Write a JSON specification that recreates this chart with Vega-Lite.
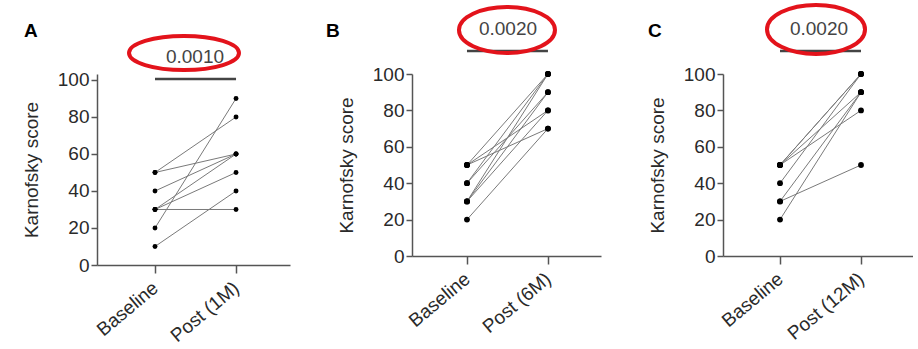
{
  "$schema": "https://vega.github.io/schema/vega-lite/v6.json",
  "background": "white",
  "padding": {"left": 22, "top": -4, "right": 0, "bottom": 0},
  "bounds": "flush",
  "spacing": 122,
  "datasets": {
    "a": [
      {"id": 1, "time": "Baseline", "score": 50}, {"id": 1, "time": "Post (1M)", "score": 60},
      {"id": 2, "time": "Baseline", "score": 50}, {"id": 2, "time": "Post (1M)", "score": 80},
      {"id": 3, "time": "Baseline", "score": 40}, {"id": 3, "time": "Post (1M)", "score": 60},
      {"id": 4, "time": "Baseline", "score": 30}, {"id": 4, "time": "Post (1M)", "score": 60},
      {"id": 5, "time": "Baseline", "score": 30}, {"id": 5, "time": "Post (1M)", "score": 50},
      {"id": 6, "time": "Baseline", "score": 30}, {"id": 6, "time": "Post (1M)", "score": 30},
      {"id": 7, "time": "Baseline", "score": 20}, {"id": 7, "time": "Post (1M)", "score": 90},
      {"id": 8, "time": "Baseline", "score": 10}, {"id": 8, "time": "Post (1M)", "score": 40}
    ],
    "b": [
      {"id": 1, "time": "Baseline", "score": 50}, {"id": 1, "time": "Post (6M)", "score": 100},
      {"id": 2, "time": "Baseline", "score": 50}, {"id": 2, "time": "Post (6M)", "score": 80},
      {"id": 3, "time": "Baseline", "score": 50}, {"id": 3, "time": "Post (6M)", "score": 70},
      {"id": 4, "time": "Baseline", "score": 40}, {"id": 4, "time": "Post (6M)", "score": 100},
      {"id": 5, "time": "Baseline", "score": 40}, {"id": 5, "time": "Post (6M)", "score": 90},
      {"id": 6, "time": "Baseline", "score": 30}, {"id": 6, "time": "Post (6M)", "score": 100},
      {"id": 7, "time": "Baseline", "score": 30}, {"id": 7, "time": "Post (6M)", "score": 90},
      {"id": 8, "time": "Baseline", "score": 30}, {"id": 8, "time": "Post (6M)", "score": 80},
      {"id": 9, "time": "Baseline", "score": 20}, {"id": 9, "time": "Post (6M)", "score": 70}
    ],
    "c": [
      {"id": 1, "time": "Baseline", "score": 50}, {"id": 1, "time": "Post (12M)", "score": 100},
      {"id": 2, "time": "Baseline", "score": 50}, {"id": 2, "time": "Post (12M)", "score": 100},
      {"id": 3, "time": "Baseline", "score": 50}, {"id": 3, "time": "Post (12M)", "score": 90},
      {"id": 4, "time": "Baseline", "score": 50}, {"id": 4, "time": "Post (12M)", "score": 80},
      {"id": 5, "time": "Baseline", "score": 40}, {"id": 5, "time": "Post (12M)", "score": 100},
      {"id": 6, "time": "Baseline", "score": 30}, {"id": 6, "time": "Post (12M)", "score": 90},
      {"id": 7, "time": "Baseline", "score": 30}, {"id": 7, "time": "Post (12M)", "score": 50},
      {"id": 8, "time": "Baseline", "score": 20}, {"id": 8, "time": "Post (12M)", "score": 90}
    ]
  },
  "config": {
    "view": {"stroke": null},
    "font": "Liberation Sans",
    "axis": {
      "labelFont": "Liberation Sans", "titleFont": "Liberation Sans",
      "labelColor": "#2a2a2a", "titleColor": "#2a2a2a",
      "domainColor": "#555", "tickColor": "#555",
      "domainWidth": 1.5, "tickWidth": 1.5, "grid": false,
      "labelFontSize": 19, "titleFontSize": 19, "titleFontWeight": "normal"
    },
    "axisY": {"tickSize": 6, "labelPadding": 2, "titlePadding": 16, "values": [0, 20, 40, 60, 80, 100]},
    "axisX": {"tickSize": 8, "labelAngle": -40, "title": null, "labelPadding": 12, "labelBaseline": "middle", "labelAlign": "right"}
  },
  "hconcat": [
    {
      "width": 193, "height": 191,
      "data": {"name": "a"},
      "encoding": {
        "x": {"field": "time", "type": "nominal", "sort": ["Baseline", "Post (1M)"], "scale": {"type": "point", "padding": 0.691, "align": 0.518}},
        "y": {"field": "score", "type": "quantitative", "scale": {"domain": [0, 103.24], "nice": false}, "axis": {"title": "Karnofsky score"}}
      },
      "layer": [
        {"mark": {"type": "line", "color": "#7a7a7a", "strokeWidth": 1}, "encoding": {"detail": {"field": "id"}}},
        {"mark": {"type": "point", "filled": true, "color": "black", "size": 24, "opacity": 1}},
        {"transform": [{"filter": "datum.id == 1 && datum.time == 'Baseline'"}], "mark": {"type": "rule", "color": "#444", "strokeWidth": 2.5}, "encoding": {"x": {"datum": "Baseline"}, "x2": {"datum": "Post (1M)"}, "y": {"datum": 100.5}}},
        {"transform": [{"filter": "datum.id == 1 && datum.time == 'Baseline'"}], "mark": {"type": "text", "fontSize": 19, "color": "#444", "dx": 40, "align": "center", "baseline": "middle"}, "encoding": {"x": {"datum": "Baseline"}, "y": {"datum": 112.4}, "text": {"value": "0.0010"}}},
        {"transform": [{"filter": "datum.id == 1 && datum.time == 'Baseline'"}], "mark": {"type": "point", "shape": "M-1,0A1,0.31,0,1,1,1,0A1,0.31,0,1,1,-1,0Z", "size": 12100, "filled": false, "stroke": "#e3131b", "strokeWidth": 4, "opacity": 1, "xOffset": 29}, "encoding": {"x": {"datum": "Baseline"}, "y": {"datum": 114.6}}},
        {"transform": [{"filter": "datum.id == 1 && datum.time == 'Baseline'"}], "mark": {"type": "text", "fontSize": 19, "fontWeight": "bold", "color": "black", "dx": -131, "align": "left", "baseline": "alphabetic"}, "encoding": {"x": {"datum": "Baseline"}, "y": {"datum": 123.2}, "text": {"value": "A"}}}
      ]
    },
    {
      "width": 189, "height": 182,
      "data": {"name": "b"},
      "encoding": {
        "x": {"field": "time", "type": "nominal", "sort": ["Baseline", "Post (6M)"], "scale": {"type": "point", "padding": 0.667, "align": 0.509}},
        "y": {"field": "score", "type": "quantitative", "scale": {"domain": [0, 100], "nice": false}, "axis": {"title": "Karnofsky score"}}
      },
      "layer": [
        {"mark": {"type": "line", "color": "#7a7a7a", "strokeWidth": 1}, "encoding": {"detail": {"field": "id"}}},
        {"mark": {"type": "point", "filled": true, "color": "black", "size": 34, "opacity": 1}},
        {"transform": [{"filter": "datum.id == 1 && datum.time == 'Baseline'"}], "mark": {"type": "rule", "color": "#444", "strokeWidth": 2.5}, "encoding": {"x": {"datum": "Baseline"}, "x2": {"datum": "Post (6M)"}, "y": {"datum": 112.6}}},
        {"transform": [{"filter": "datum.id == 1 && datum.time == 'Baseline'"}], "mark": {"type": "text", "fontSize": 19, "color": "#444", "dx": 41, "align": "center", "baseline": "middle"}, "encoding": {"x": {"datum": "Baseline"}, "y": {"datum": 124.7}, "text": {"value": "0.0020"}}},
        {"transform": [{"filter": "datum.id == 1 && datum.time == 'Baseline'"}], "mark": {"type": "point", "shape": "M-1,0A1,0.479,0,1,1,1,0A1,0.479,0,1,1,-1,0Z", "size": 9216, "filled": false, "stroke": "#e3131b", "strokeWidth": 4, "opacity": 1, "xOffset": 40}, "encoding": {"x": {"datum": "Baseline"}, "y": {"datum": 124.2}}},
        {"transform": [{"filter": "datum.id == 1 && datum.time == 'Baseline'"}], "mark": {"type": "text", "fontSize": 19, "fontWeight": "bold", "color": "black", "dx": -141, "align": "left", "baseline": "alphabetic"}, "encoding": {"x": {"datum": "Baseline"}, "y": {"datum": 120.3}, "text": {"value": "B"}}}
      ]
    },
    {
      "width": 190, "height": 182,
      "data": {"name": "c"},
      "encoding": {
        "x": {"field": "time", "type": "nominal", "sort": ["Baseline", "Post (12M)"], "scale": {"type": "point", "padding": 0.673, "align": 0.523}},
        "y": {"field": "score", "type": "quantitative", "scale": {"domain": [0, 100], "nice": false}, "axis": {"title": "Karnofsky score"}}
      },
      "layer": [
        {"mark": {"type": "line", "color": "#7a7a7a", "strokeWidth": 1}, "encoding": {"detail": {"field": "id"}}},
        {"mark": {"type": "point", "filled": true, "color": "black", "size": 34, "opacity": 1}},
        {"transform": [{"filter": "datum.id == 1 && datum.time == 'Baseline'"}], "mark": {"type": "rule", "color": "#444", "strokeWidth": 2.5}, "encoding": {"x": {"datum": "Baseline"}, "x2": {"datum": "Post (12M)"}, "y": {"datum": 112.6}}},
        {"transform": [{"filter": "datum.id == 1 && datum.time == 'Baseline'"}], "mark": {"type": "text", "fontSize": 19, "color": "#444", "dx": 39, "align": "center", "baseline": "middle"}, "encoding": {"x": {"datum": "Baseline"}, "y": {"datum": 124.7}, "text": {"value": "0.0020"}}},
        {"transform": [{"filter": "datum.id == 1 && datum.time == 'Baseline'"}], "mark": {"type": "point", "shape": "M-1,0A1,0.5,0,1,1,1,0A1,0.5,0,1,1,-1,0Z", "size": 9604, "filled": false, "stroke": "#e3131b", "strokeWidth": 4, "opacity": 1, "xOffset": 36}, "encoding": {"x": {"datum": "Baseline"}, "y": {"datum": 124.5}}},
        {"transform": [{"filter": "datum.id == 1 && datum.time == 'Baseline'"}], "mark": {"type": "text", "fontSize": 19, "fontWeight": "bold", "color": "black", "dx": -132, "align": "left", "baseline": "alphabetic"}, "encoding": {"x": {"datum": "Baseline"}, "y": {"datum": 120.3}, "text": {"value": "C"}}}
      ]
    }
  ]
}
